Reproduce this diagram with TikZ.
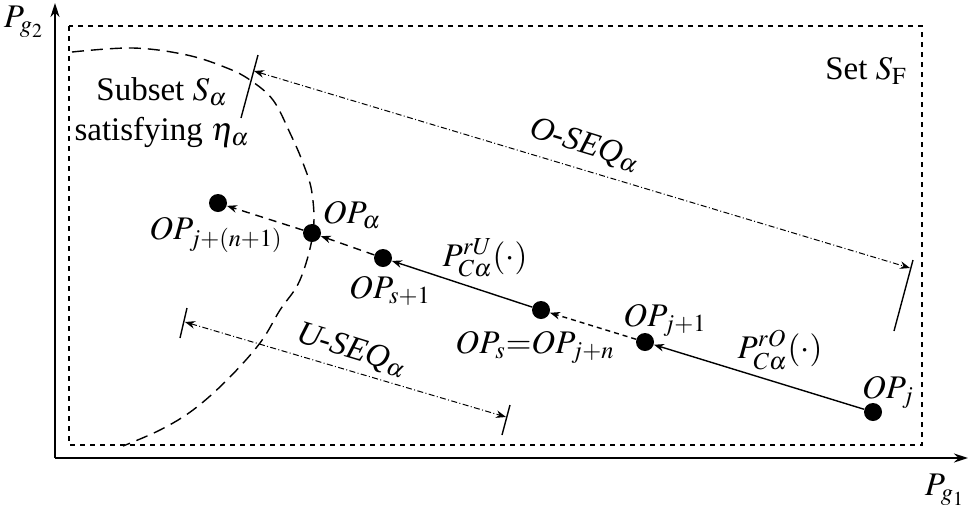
\documentclass[tikz,border=0pt]{standalone}
\usepackage{mathptmx}
\usepackage{fontspec}
\setmainfont{Liberation Serif}
\usetikzlibrary{arrows.meta}
\tikzset{
  axis/.style={line width=1pt,-{Stealth[length=7pt,width=4.5pt]}},
  setbox/.style={line width=0.7pt,dash pattern=on 2.5pt off 2.5pt},
  arcline/.style={line width=0.7pt,dash pattern=on 6pt off 3.5pt},
  dot/.style={circle,fill=black,inner sep=0pt,minimum size=9pt},
  seg/.style={line width=0.7pt},
  tip/.style={-{Stealth[length=5pt,width=3.8pt]}},
  finehop/.style={dash pattern=on 2.5pt off 2pt},
  hop/.style={dash pattern=on 4pt off 3pt},
  seq/.style={line width=0.5pt,dash pattern=on 3pt off 1.2pt on 0.5pt off 1.2pt,
    {Stealth[length=5pt,width=3.8pt]}-{Stealth[length=5pt,width=3.8pt]}},
  lbl/.style={inner sep=0pt,font=\fontsize{16.5}{18}\selectfont}
}
\begin{document}
\begin{tikzpicture}[x=0.5pt,y=-0.5pt]
\useasboundingbox (0,0) rectangle (970,521);

\coordinate (orig) at (55,458);
\coordinate (xend) at (968,458);
\coordinate (yend) at (55,3);
\draw[axis] (orig) -- (xend);
\draw[axis] (orig) -- (yend);
\node[lbl] (pg2) at (24,22) {$P_{g_2}$};
\node[lbl] (pg1) at (945,490) {$P_{g_1}$};

\draw[setbox] (69,26) rectangle (922,445);
\node[lbl] (setF) at (866,71) {Set $S_{\mathrm{F}}$};

\draw[arcline] plot[smooth,tension=0.6] coordinates {(72,52) (133,48) (187,55) (227,68)
  (250,80) (273,100) (290,133) (303,163) (312,193) (313,233) (300,280) (280,310)
  (260,343) (227,380) (193,410) (160,430) (123,446)};
\node[lbl,align=center] (subset) at (162,113) {Subset $S_\alpha$\\[2pt]satisfying $\eta_\alpha$};

\node[dot] (opj) at (873,412) {};
\node[dot] (opj1) at (645,342) {};
\node[dot] (ops) at (541,310) {};
\node[dot] (ops1) at (383,258) {};
\node[dot] (opa) at (312,233) {};
\node[dot] (opjn1) at (218,203) {};

\draw[seg,tip] (opj) -- (opj1);
\draw[seg,finehop,tip] (opj1) -- (ops);
\draw[seg,tip] (ops) -- (ops1);
\draw[seg,hop,tip] (ops1) -- (opa);
\draw[seg,hop,tip] (opa) -- (opjn1);

\node[lbl] (lopj) at (888,392) {$OP_j$};
\node[lbl] (lopj1) at (665,320) {$OP_{j+1}$};
\node[lbl] (lops) at (535,347) {$OP_s{=}OP_{j+n}$};
\node[lbl] (lops1) at (390,291) {$OP_{s+1}$};
\node[lbl] (lopa) at (352,215) {$OP_\alpha$};
\node[lbl] (lopjn1) at (216,235) {$OP_{j+(n+1)}$};
\node[lbl] (prU) at (485,258) {$P_{C\alpha}^{rU}(\cdot)$};
\node[lbl] (prO) at (780,350) {$P_{C\alpha}^{rO}(\cdot)$};

\coordinate (ota) at (258,55);
\coordinate (otb) at (241,118);
\coordinate (otc) at (913,260);
\coordinate (otd) at (894,331);
\coordinate (oa) at (254,71);
\coordinate (ob) at (910,268);
\draw[seg] (ota) -- (otb);
\draw[seg] (otc) -- (otd);
\draw[seq] (oa) -- (ob);
\node[lbl,rotate=-17] (oseq) at (585,145) {\textit{O-SEQ}$_\alpha$};

\coordinate (uta) at (187,308);
\coordinate (utb) at (180,338);
\coordinate (utc) at (510,405);
\coordinate (utd) at (502,435);
\coordinate (ua) at (185,322);
\coordinate (ub) at (506,417);
\draw[seg] (uta) -- (utb);
\draw[seg] (utc) -- (utd);
\draw[seq] (ua) -- (ub);
\node[lbl,rotate=-17] (useq) at (352,350) {\textit{U-SEQ}$_\alpha$};
\end{tikzpicture}
\end{document}
